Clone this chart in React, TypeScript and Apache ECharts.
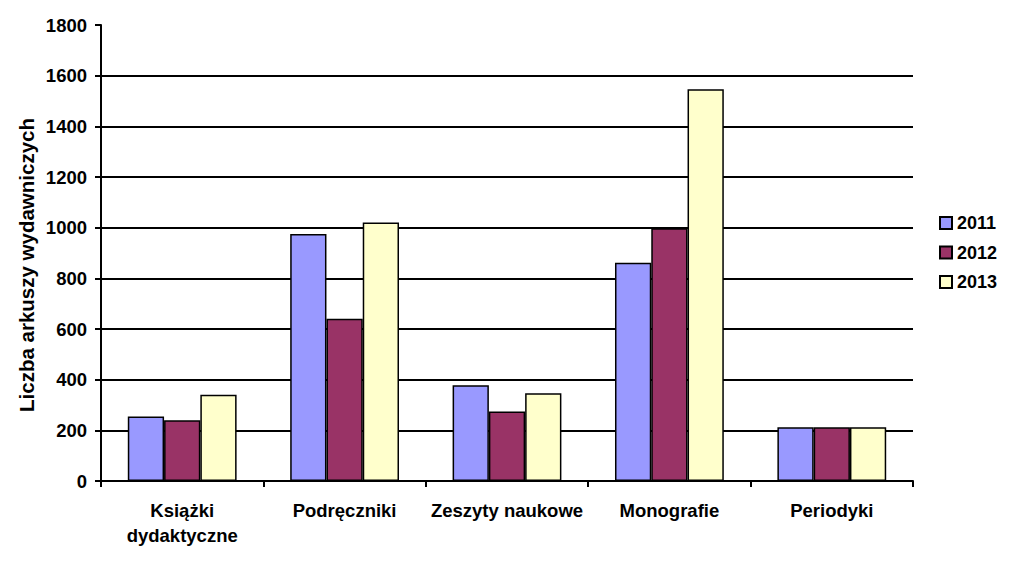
import React, { useEffect, useRef } from "react";
import * as echarts from "echarts";

const categories = ["Książki\ndydaktyczne", "Podręczniki", "Zeszyty naukowe", "Monografie", "Periodyki"];
const seriesNames = ["2011", "2012", "2013"];
const values2011 = [255, 975, 378, 862, 212];
const values2012 = [240, 640, 274, 998, 212];
const values2013 = [340, 1020, 346, 1546, 212];
const colors = ["#9999FF", "#993366", "#FFFFCC"];
const yAxisTitle = "Liczba arkuszy wydawniczych";

const FONT = "Arial, 'Liberation Sans', sans-serif";

export default function App() {
  const ref = useRef<HTMLDivElement>(null);
  useEffect(() => {
    if (!ref.current) return;
    const chart = echarts.init(ref.current, undefined, { renderer: "svg" });
    const data = [values2011, values2012, values2013];
    chart.setOption({
      animation: false,
      backgroundColor: "#ffffff",
      textStyle: { fontFamily: FONT },
      grid: { left: 101, right: 110, top: 25, bottom: 92 },
      legend: {
        orient: "vertical",
        left: 934,
        top: 209,
        padding: 5,
        itemWidth: 12,
        itemHeight: 12,
        itemGap: 11.5,
        icon: "rect",
        data: seriesNames,
        textStyle: { fontFamily: FONT, fontSize: 18, lineHeight: 18, fontWeight: "bold", color: "#000" },
      },
      graphic: [
        {
          type: "text",
          x: 26,
          y: 265,
          rotation: Math.PI / 2,
          style: {
            text: yAxisTitle,
            fontFamily: FONT,
            fontSize: 20.5,
            fontWeight: "bold",
            fill: "#000",
            align: "center",
            verticalAlign: "middle",
          },
        },
      ],
      xAxis: {
        type: "category",
        data: categories,
        axisLine: { lineStyle: { color: "#000", width: 2 } },
        axisTick: { show: true, length: 6, lineStyle: { color: "#000", width: 2 } },
        axisLabel: {
          interval: 0,
          fontFamily: FONT,
          fontSize: 18.5,
          fontWeight: "bold",
          color: "#000",
          margin: 17,
          lineHeight: 25,
        },
      },
      yAxis: {
        type: "value",
        min: 0,
        max: 1800,
        interval: 200,
        axisLine: { show: true, lineStyle: { color: "#000", width: 2 } },
        axisTick: { show: true, length: 6, lineStyle: { color: "#000", width: 2 } },
        axisLabel: {
          fontFamily: FONT,
          fontSize: 18.5,
          fontWeight: "bold",
          color: "#000",
          margin: 14,
          formatter: (v: number) => String(v),
        },
        splitLine: { show: true, showMaxLine: false, lineStyle: { color: "#000", width: 2 } },
      },
      series: seriesNames.map((name, i) => ({
        name,
        type: "bar",
        data: data[i],
        barGap: "0%",
        barCategoryGap: "33%",
        itemStyle: { color: colors[i], borderColor: "#000", borderWidth: 1.5 },
      })),
    });
    return () => chart.dispose();
  }, []);
  return <div ref={ref} style={{ position: "fixed", left: 0, top: 0, width: 1023, height: 573 }} />;
}
